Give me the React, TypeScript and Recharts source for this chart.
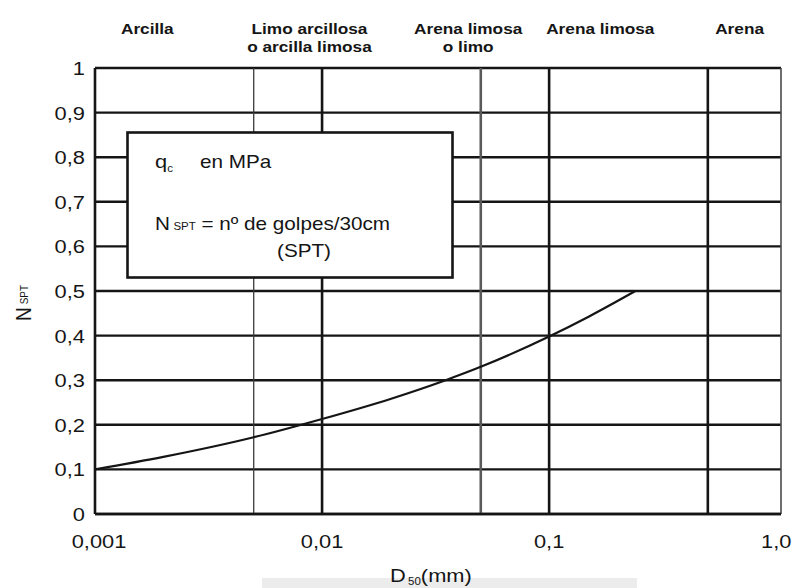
import React from 'react';
import { LineChart, Line, XAxis, YAxis, CartesianGrid, ReferenceLine } from 'recharts';

// the scanned figure is a little wider than tall, so text is stretched a bit
const STRETCH = 1.15;
const INK = '#151515';
const FONT = '"Liberation Sans", Arial, Helvetica, sans-serif';

// D50 (mm), log scale
const xDomain = [0.001, 1.05];
const xTicks = [0.001, 0.01, 0.1, 1];
const xTickLabels = ['0,001', '0,01', '0,1', '1,0'];

const yTicks = [0, 0.1, 0.2, 0.3, 0.4, 0.5, 0.6, 0.7, 0.8, 0.9, 1];
const yTickLabels = ['0', '0,1', '0,2', '0,3', '0,4', '0,5', '0,6', '0,7', '0,8', '0,9', '1'];

// soil type limits and names (top band)
const soilBounds = [0.005, 0.01, 0.05, 0.1, 0.5];
const soilNames = [
  ['Arcilla'],
  ['Limo arcillosa', 'o arcilla limosa'],
  ['Arena limosa', 'o limo'],
  ['Arena limosa'],
  ['Arena'],
];
const soilCenters = [0.0017, 0.0088, 0.044, 0.168, 0.69];

// qc / N curve
const d50 = [0.001, 0.002, 0.005, 0.01, 0.02, 0.035, 0.05, 0.1, 0.15, 0.24];
const ratio = [0.1, 0.128, 0.172, 0.213, 0.258, 0.3, 0.33, 0.398, 0.443, 0.5];

const boundStyles = [
  { stroke: '#3a3a3a', width: 1.3 },
  { stroke: INK, width: 2.6 },
  { stroke: '#5a5a5a', width: 2.6 },
  { stroke: INK, width: 2.6 },
  { stroke: INK, width: 2.6 },
];

const data = d50.map((d, i) => ({ d, n: ratio[i] }));

const WideText = ({ x, y, size, weight = 'normal', anchor = 'start', children }: any) => (
  <text
    transform={`translate(${x},${y}) scale(${STRETCH},1)`}
    textAnchor={anchor}
    fontSize={size}
    fontWeight={weight}
    fontFamily={FONT}
    fill={INK}
  >
    {children}
  </text>
);

const BottomTick = ({ x, y, payload }: any) => {
  const i = xTicks.findIndex((t) => Math.abs(t - payload.value) < 1e-9);
  return (
    <WideText x={x + (i === 0 ? 4 : 0)} y={y + 34} size={19} anchor="middle">
      {xTickLabels[i]}
    </WideText>
  );
};

const LeftTick = ({ x, y, payload }: any) => {
  const i = yTicks.findIndex((t) => Math.abs(t - payload.value) < 1e-9);
  return (
    <WideText x={x - 10} y={y + 7} size={19} anchor="end">
      {yTickLabels[i]}
    </WideText>
  );
};

const TopTick = ({ x, payload }: any) => {
  const i = soilCenters.findIndex((t) => Math.abs(t - payload.value) < 1e-9);
  const lines = soilNames[i] || [];
  return (
    <g>
      {lines.map((line, k) => (
        <WideText key={k} x={x} y={34 + k * 18} size={15} weight="bold" anchor="middle">
          {line}
        </WideText>
      ))}
    </g>
  );
};

const YTitle = ({ viewBox }: any) => {
  const cy = viewBox.y + viewBox.height / 2 + 12;
  return (
    <text
      transform={`translate(31,${cy}) scale(${STRETCH},1) rotate(-90)`}
      textAnchor="middle"
      fontFamily={FONT}
      fill={INK}
    >
      <tspan fontSize={19}>N</tspan>
      <tspan fontSize={10} dx={3} dy={-3}>SPT</tspan>
    </text>
  );
};

const XTitle = () => (
  <g>
    <rect x={262} y={578} width={375} height={10} fill="#ececec" />
    <text transform={`translate(390,582) scale(${STRETCH},1)`} fontFamily={FONT} fill={INK}>
      <tspan fontSize={19}>D</tspan>
      <tspan fontSize={10} dx={2} dy={3}>50</tspan>
      <tspan fontSize={19} dy={-3}>(mm)</tspan>
    </text>
  </g>
);

const NoteBox = () => (
  <svg
    width={328}
    height={148}
    style={{ position: 'absolute', left: 126, top: 131 }}
  >
    <rect x={1.5} y={1.5} width={325} height={145} fill="#fff" stroke={INK} strokeWidth={2.6} />
    <text transform={`translate(29,37) scale(${STRETCH},1)`} fontFamily={FONT} fill={INK}>
      <tspan fontSize={19}>q</tspan>
      <tspan fontSize={10} dy={4}>c</tspan>
    </text>
    <WideText x={74} y={37} size={18}>en MPa</WideText>
    <text transform={`translate(29,99) scale(${STRETCH},1)`} fontFamily={FONT} fill={INK}>
      <tspan fontSize={18}>N</tspan>
      <tspan fontSize={10} dx={3}>SPT</tspan>
      <tspan fontSize={18}> = nº de golpes/30cm</tspan>
    </text>
    <WideText x={178} y={126} size={18} anchor="middle">(SPT)</WideText>
  </svg>
);

export default function App() {
  return (
    <div style={{ position: 'absolute', left: 0, top: 0, width: 794, height: 588, background: '#fff' }}>
      <LineChart
        width={794}
        height={588}
        data={data}
        margin={{ top: 0, right: 13, bottom: 0, left: 0 }}
      >
        <CartesianGrid horizontal vertical={false} stroke={INK} strokeWidth={2.4} />
        <XAxis
          dataKey="d"
          type="number"
          scale="log"
          domain={xDomain}
          allowDataOverflow
          ticks={xTicks}
          interval={0}
          tick={<BottomTick />}
          tickLine={false}
          tickSize={0}
          tickMargin={0}
          axisLine={{ stroke: INK, strokeWidth: 2.6 }}
          height={74}
          label={<XTitle />}
        />
        <XAxis
          xAxisId="top"
          orientation="top"
          dataKey="d"
          type="number"
          scale="log"
          domain={xDomain}
          allowDataOverflow
          ticks={soilCenters}
          interval={0}
          tick={<TopTick />}
          tickLine={false}
          axisLine={false}
          height={68}
        />
        <YAxis
          type="number"
          domain={[0, 1]}
          ticks={yTicks}
          interval={0}
          tick={<LeftTick />}
          tickLine={false}
          tickSize={0}
          tickMargin={0}
          axisLine={{ stroke: INK, strokeWidth: 2.6 }}
          width={95}
          label={<YTitle />}
        />
        {soilBounds.map((b, i) => (
          <ReferenceLine
            key={b}
            x={b}
            stroke={boundStyles[i].stroke}
            strokeWidth={boundStyles[i].width}
          />
        ))}
        <ReferenceLine x={xDomain[1]} stroke="#4a4a4a" strokeWidth={1.6} />
        <Line
          type="monotone"
          dataKey="n"
          stroke={INK}
          strokeWidth={2.2}
          dot={false}
          isAnimationActive={false}
        />
      </LineChart>
      <NoteBox />
    </div>
  );
}
